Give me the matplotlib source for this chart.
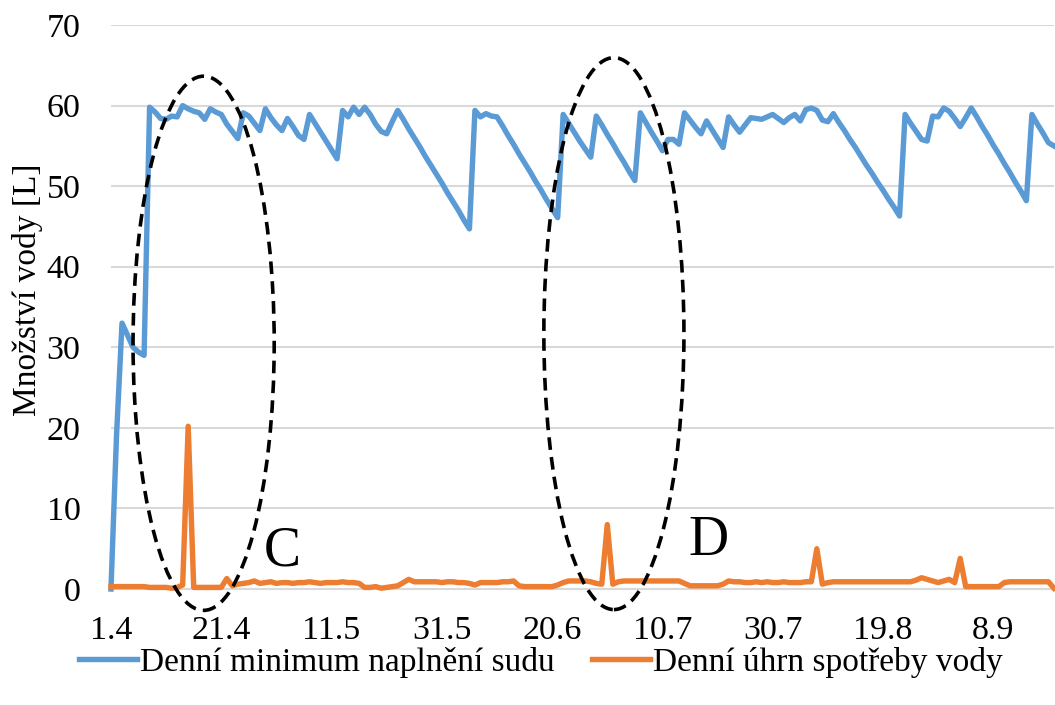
import matplotlib
matplotlib.use("Agg")
import matplotlib.pyplot as plt
from matplotlib.patches import Ellipse
import pandas as pd

# denni minimum naplneni sudu [L], 1.4. - 19.9.
barrel_min = [
    0, 19, 33, 31.5, 30, 29.4, 29, 59.8, 59.2, 58.4,
    58.3, 58.7, 58.6, 60, 59.6, 59.3, 59.1, 58.3, 59.6, 59.2,
    58.9, 57.7, 56.8, 55.9, 59.1, 58.7, 57.8, 56.9, 59.6, 58.5,
    57.6, 56.9, 58.4, 57.4, 56.3, 55.8, 58.9, 57.8, 56.7, 55.6,
    54.5, 53.4, 59.4, 58.6, 59.8, 58.9, 59.8, 58.9, 57.7, 56.8,
    56.5, 58.0, 59.4, 58.3, 57.1, 56.0, 54.9, 53.7, 52.6, 51.5,
    50.4, 49.2, 48.1, 47.0, 45.8, 44.7, 59.4, 58.6, 59.0, 58.7,
    58.6, 57.5, 56.3, 55.2, 54.0, 52.9, 51.8, 50.6, 49.5, 48.3,
    47.2, 46.1, 58.9, 57.8, 56.7, 55.6, 54.6, 53.6, 58.7, 57.6,
    56.4, 55.3, 54.1, 53.0, 51.8, 50.7, 59.1, 57.9, 56.7, 55.6,
    54.4, 55.8, 55.8, 55.2, 59.1, 58.2, 57.3, 56.5, 58.1, 57.0,
    55.9, 54.8, 58.6, 57.6, 56.7, 57.6, 58.5, 58.4, 58.3, 58.6,
    58.9, 58.4, 57.9, 58.5, 58.9, 58.1, 59.5, 59.7, 59.4, 58.2,
    58.0, 59.0, 57.9, 56.9, 55.8, 54.8, 53.7, 52.6, 51.6, 50.5,
    49.5, 48.4, 47.4, 46.3, 58.9, 57.8, 56.8, 55.8, 55.6, 58.7,
    58.6, 59.7, 59.3, 58.4, 57.4, 58.5, 59.7, 58.6, 57.4, 56.3,
    55.1, 54.0, 52.8, 51.7, 50.5, 49.4, 48.2, 58.9, 57.7, 56.6,
    55.4, 55.0,
]

# denni uhrn spotreby vody [L]
consumption = [
    0.3, 0.3, 0.3, 0.3, 0.3, 0.3, 0.3, 0.2, 0.2, 0.2,
    0.2, 0.1, 0.2, 0.5, 20.2, 0.2, 0.2, 0.2, 0.2, 0.2,
    0.2, 1.3, 0.4, 0.6, 0.7, 0.8, 1.0, 0.7, 0.8, 0.9,
    0.7, 0.8, 0.8, 0.7, 0.8, 0.8, 0.9, 0.8, 0.7, 0.8,
    0.8, 0.8, 0.9, 0.8, 0.8, 0.7, 0.2, 0.2, 0.3, 0.1,
    0.2, 0.3, 0.4, 0.8, 1.2, 0.9, 0.9, 0.9, 0.9, 0.9,
    0.8, 0.9, 0.9, 0.8, 0.8, 0.7, 0.5, 0.8, 0.8, 0.8,
    0.8, 0.9, 0.9, 1.0, 0.4, 0.3, 0.3, 0.3, 0.3, 0.3,
    0.3, 0.5, 0.8, 1.0, 1.0, 1.0, 1.0, 0.9, 0.7, 0.6,
    8.0, 0.6, 0.9, 1.0, 1.0, 1.0, 1.0, 1.0, 1.0, 1.0,
    1.0, 1.0, 1.0, 1.0, 0.7, 0.4, 0.4, 0.4, 0.4, 0.4,
    0.4, 0.6, 1.0, 0.9, 0.9, 0.8, 0.8, 0.9, 0.8, 0.9,
    0.8, 0.8, 0.9, 0.8, 0.8, 0.8, 0.9, 0.9, 5.0, 0.6,
    0.8, 0.9, 0.9, 0.9, 0.9, 0.9, 0.9, 0.9, 0.9, 0.9,
    0.9, 0.9, 0.9, 0.9, 0.9, 0.9, 1.1, 1.4, 1.2, 1.0,
    0.8, 1.0, 1.2, 0.8, 3.8, 0.3, 0.3, 0.3, 0.3, 0.3,
    0.3, 0.3, 0.8, 0.9, 0.9, 0.9, 0.9, 0.9, 0.9, 0.9,
    0.9, 0.1,
]

dates = pd.date_range("2019-04-01", periods=len(barrel_min), freq="D")
date_labels = [f"{d.day}.{d.month}" for d in dates]
tick_step = 20

series_names = ["Denní minimum naplnění sudu", "Denní úhrn spotřeby vody"]
colors = ["#5B9BD5", "#ED7D31"]

plt.rcParams["font.family"] = ["Liberation Serif", "DejaVu Serif"]

fig = plt.figure(figsize=(10.55, 7.05), dpi=100)
ax = fig.add_axes([0.1052, 0.1645, 0.8938, 0.8])

x = range(len(dates))
ax.plot(x, barrel_min, color=colors[0], lw=3.9, solid_joinstyle="round",
        label=series_names[0], clip_on=False, zorder=3)
ax.plot(x, consumption, color=colors[1], lw=3.9, solid_joinstyle="round",
        label=series_names[1], clip_on=False, zorder=3)

ax.set_xlim(0, len(dates) - 1)
ax.set_ylim(0, 70)
ax.set_yticks(range(0, 71, 10))
ax.set_xticks(list(x)[::tick_step])
ax.set_xticklabels(date_labels[::tick_step])
ax.tick_params(axis="both", length=0, labelsize=24.5)
ax.tick_params(axis="x", pad=19)
ax.tick_params(axis="y", pad=22)
ax.grid(axis="y", color="#D9D9D9", lw=1.5)
ax.set_axisbelow(True)
for s in ["left", "right", "top"]:
    ax.spines[s].set_visible(False)
ax.spines["bottom"].set_color("#D9D9D9")
ax.spines["bottom"].set_linewidth(1.5)

ax.set_ylabel("Množství vody [L]", fontsize=24)
ax.yaxis.set_label_coords(-0.072, 0.53)

# vyznacene oblasti C a D
for (cx, cy, w, h), letter, (tx, ty) in [((16.8, 30.5, 25.6, 66.3), "C", (31.0, 4.7)),
                                         ((91.2, 31.7, 25.4, 68.5), "D", (108.3, 5.9))]:
    e = Ellipse((cx, cy), w, h, fill=False, ec="black", lw=2.6,
                ls=(0, (3.5, 2)), clip_on=False, zorder=4)
    ax.add_patch(e)
    ax.text(tx, ty, letter, fontsize=40, ha="center", va="center", zorder=5)

ax.legend(loc="center", bbox_to_anchor=(0.456, -0.13), ncol=2, frameon=False,
          fontsize=24, handlelength=1.75, handletextpad=0.1, columnspacing=1.1)

fig.savefig("out.png", dpi=100)
